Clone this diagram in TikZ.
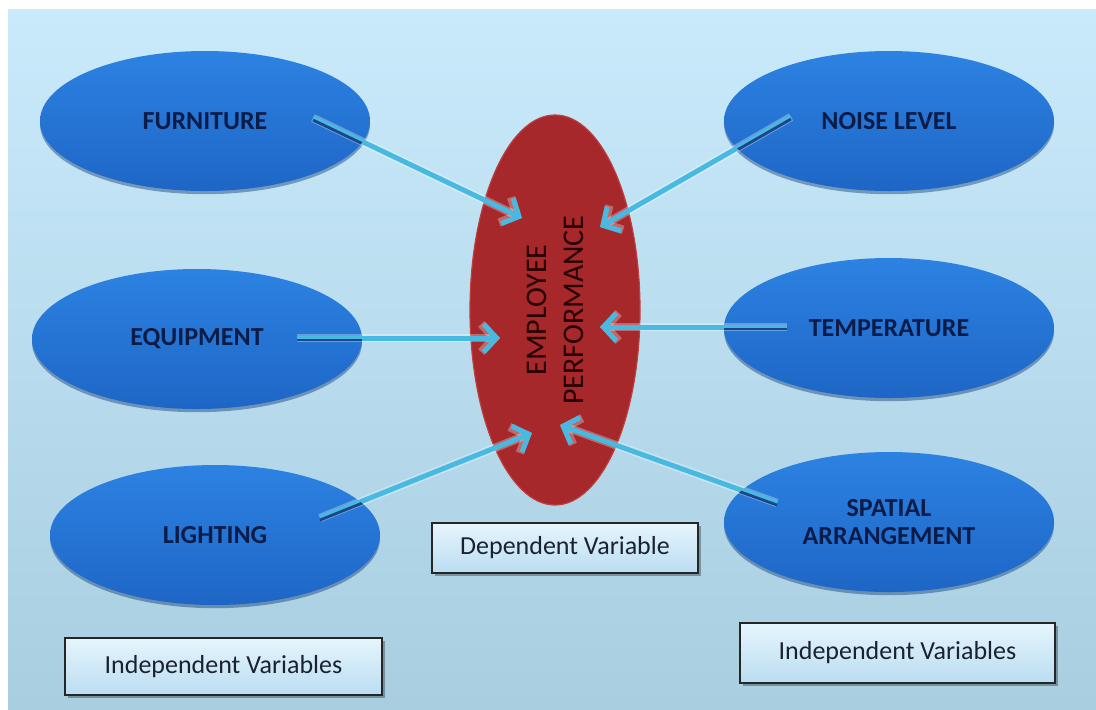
\documentclass[tikz,border=0pt]{standalone}
\usepackage{fontspec}
\setmainfont{Carlito}
\usetikzlibrary{shapes.geometric,arrows.meta,shadows,calc}
\definecolor{bgtop}{RGB}{201,234,251}
\definecolor{bgbot}{RGB}{168,206,224}
\definecolor{ovtop}{RGB}{44,130,226}
\definecolor{ovbot}{RGB}{30,102,198}
\definecolor{redov}{RGB}{166,40,42}
\definecolor{redrim}{RGB}{190,62,62}
\definecolor{arrowc}{RGB}{72,186,226}
\definecolor{navytxt}{RGB}{12,28,72}
\definecolor{boxtop}{RGB}{230,245,253}
\definecolor{boxbot}{RGB}{186,221,241}
\definecolor{boxtxt}{RGB}{26,34,50}
\definecolor{darkline}{RGB}{18,52,120}
\begin{document}
\begin{tikzpicture}[x=0.5pt,y=-0.5pt,
  factor/.style={ellipse, minimum width=165pt, minimum height=70pt, inner sep=0pt,
    top color=ovtop, bottom color=ovbot, draw=none,
    drop shadow={shadow xshift=0pt, shadow yshift=-1.6pt, opacity=0.45, fill=ovbot!60!black},
    font=\fontsize{13}{14}\selectfont\bfseries, text=navytxt, align=center},
  perfnode/.style={ellipse, rotate=90, minimum width=195pt, minimum height=85pt, inner sep=0pt,
    fill=redov, draw=redrim, line width=0.6pt,
    font=\fontsize{15}{18.5}\selectfont, text=black!85!red, align=center},
  labelbox/.style={rectangle, draw=black!85, line width=1.2pt, top color=boxtop, bottom color=boxbot,
    inner sep=0pt, font=\fontsize{13}{15}\selectfont, text=boxtxt,
    drop shadow={shadow xshift=1.3pt, shadow yshift=-1.3pt, opacity=0.3, fill=black}},
  glow/.style={draw=white, opacity=0.3, line width=4.2pt, -{Straight Barb[length=6.5pt,width=14pt]}},
  conn/.style={draw=arrowc, line width=2.5pt, -{Straight Barb[length=6.5pt,width=14pt]}},
  innerline/.style={draw=darkline, line width=1.4pt, opacity=0.85}
]
\useasboundingbox (0,0) rectangle (1096,709);
\fill[white] (0,0) rectangle (1096,709);
\fill[top color=bgtop, bottom color=bgbot] (8,9) rectangle (1096,709);

% dependent variable
\node[perfnode] (perf) at (555,310) {EMPLOYEE\\PERFORMANCE};

% independent variables
\node[factor] (furn)  at (205,121) {FURNITURE};
\node[factor] (equip) at (197,339) {EQUIPMENT};
\node[factor] (light) at (215,535) {LIGHTING};
\node[factor] (noise) at (889,121) {NOISE LEVEL};
\node[factor] (temp)  at (889,328) {TEMPERATURE};
\node[factor] (spat)  at (889,522) {SPATIAL\\ARRANGEMENT};

% connector ends
\coordinate (f1) at (313,118); \coordinate (t1) at (522,218);
\coordinate (f2) at (791,117); \coordinate (t2) at (600,227);
\coordinate (f3) at (297,338); \coordinate (t3) at (500,338);
\coordinate (f4) at (787,327); \coordinate (t4) at (600,327);
\coordinate (f5) at (320,518); \coordinate (t5) at (532,433);
\coordinate (f6) at (777,503); \coordinate (t6) at (560,425);

\foreach \a/\b in {f1/t1,f2/t2,f3/t3,f4/t4,f5/t5,f6/t6}{
  \draw[glow] (\a) -- (\b);
  \draw[conn] (\a) -- (\b);
}
\foreach \s/\a/\b in {furn/f1/t1,noise/f2/t2,equip/f3/t3,temp/f4/t4,light/f5/t5,spat/f6/t6}{
  \begin{scope}
    \clip (\s.center) ellipse [x radius=82.5pt, y radius=35pt];
    \draw[innerline] ($(\a)+(0,2)$) -- ($(\b)+(0,2)$);
  \end{scope}
}

% labels
\node[labelbox, minimum width=133pt, minimum height=25pt] (dep) at (565,548) {Dependent Variable};
\node[labelbox, minimum width=158.5pt, minimum height=28.5pt] (indl) at (223.5,666.5) {Independent Variables};
\node[labelbox, minimum width=157.5pt, minimum height=30pt] (indr) at (897.5,653) {Independent Variables};
\end{tikzpicture}
\end{document}
